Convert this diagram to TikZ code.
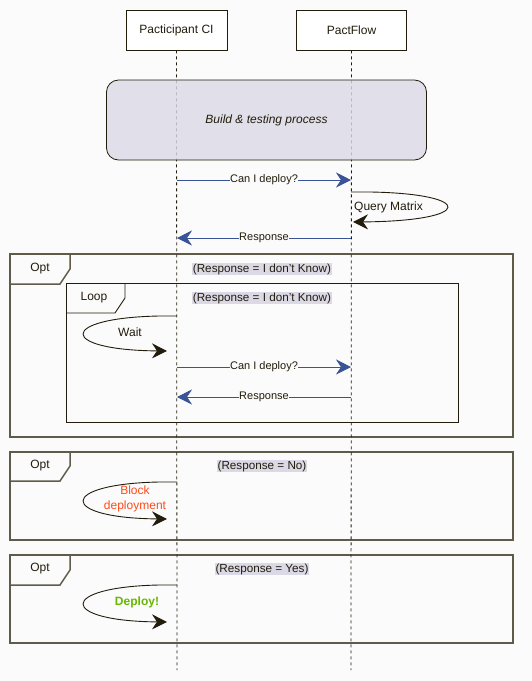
\documentclass[tikz,border=0pt]{standalone}
\usepackage{fontspec}
\setmainfont{Liberation Sans}
\usetikzlibrary{arrows.meta}
\definecolor{bg}{HTML}{FBFBFB}
\definecolor{ink}{HTML}{221C0C}
\definecolor{framecol}{HTML}{5F5B4B}
\definecolor{lav}{HTML}{DCD9E6}
\definecolor{msgblue}{HTML}{3A5296}
\definecolor{blockred}{HTML}{FF4B1A}
\definecolor{okgreen}{HTML}{66B800}
\begin{document}
\begin{tikzpicture}[x=1pt,y=-1pt,
  font=\fontsize{12}{15}\selectfont, text=ink,
  actor/.style={draw=ink, fill=white, line width=0.8pt, minimum width=101pt, minimum height=40pt, inner sep=0pt},
  lifeline/.style={draw=ink, dash pattern=on 3pt off 3pt, line width=0.8pt},
  msg/.style={draw=msgblue, line width=0.8pt, -{Stealth[length=15pt,width=15pt,inset=5pt,color=msgblue,fill=msgblue]}},
  msglabel/.style={midway, fill=bg, inner sep=0.5pt, font=\fontsize{11}{13}\selectfont},
  selfmsg/.style={draw=ink, line width=0.9pt, -{Stealth[length=15pt,width=15pt,inset=5pt,color=ink,fill=ink]}},
  outerframe/.style={draw=framecol, line width=1.5pt},
  innerframe/.style={draw=ink, line width=0.9pt},
  guard/.style={fill=lav, inner sep=1pt, font=\fontsize{11.7}{14}\selectfont},
]
\useasboundingbox[fill=bg] (0,0) rectangle (532,681);

% frames
\draw[outerframe] (10,254) rectangle (513,437);
\draw[outerframe] (10,284) -- (60,284) -- (70,269) -- (70,254);
\node (opt1) at (40,269) {Opt};
\node[guard] (g1) at (262,269) {(Response = I don't Know)};

\draw[innerframe] (66,283) rectangle (458,422);
\draw[innerframe] (66,313) -- (115,313) -- (125,298) -- (125,283);
\node (loop1) at (94,298) {Loop};
\node[guard] (g2) at (262,298) {(Response = I don't Know)};

\draw[outerframe] (10,452) rectangle (513,540);
\draw[outerframe] (10,481) -- (60,481) -- (70,466) -- (70,452);
\node (opt2) at (40,466) {Opt};
\node[guard] (g3) at (262,466) {(Response = No)};

\draw[outerframe] (10,555) rectangle (513,643);
\draw[outerframe] (10,585) -- (60,585) -- (70,570) -- (70,555);
\node (opt3) at (40,569) {Opt};
\node[guard] (g4) at (262,569) {(Response = Yes)};

% participants and lifelines
\node[actor] (ci) at (176.5,30) {Pacticipant CI};
\node[actor, minimum width=110pt] (pf) at (351.5,30) {PactFlow};
\coordinate (ciend) at (177,670);
\coordinate (pfend) at (351,670);
\draw[lifeline] (ci.south) -- (ciend);
\draw[lifeline] (pf.south) -- (pfend);

% build box
\node[draw=ink, line width=0.8pt, fill=lav, fill opacity=0.82, text opacity=1, rounded corners=12pt,
      minimum width=320pt, minimum height=80pt, font=\fontsize{12}{15}\selectfont\itshape] (build) at (266.5,120) {Build \& testing process};

% messages
\coordinate (m1a) at (177,180); \coordinate (m1b) at (351,180);
\draw[msg] (m1a) -- node[msglabel] {Can I deploy?} (m1b);

\coordinate (qa) at (351,192); \coordinate (qb) at (353,222);
\draw[selfmsg] (qa) -- ++(20,0) .. controls (475,194) and (475,221) .. (qb);
\node[anchor=west, inner sep=0pt] (qlabel) at (354,207) {Query Matrix};

\coordinate (m2a) at (351,238); \coordinate (m2b) at (177,238);
\draw[msg] (m2a) -- node[msglabel] {Response} (m2b);

\coordinate (wa) at (177,316); \coordinate (wb) at (167,351);
\draw[selfmsg] (wa) -- ++(-18,0) .. controls (58,318) and (58,350) .. (wb);
\node (wlabel) at (130,332) {Wait};

\coordinate (m3a) at (177,367); \coordinate (m3b) at (351,367);
\draw[msg] (m3a) -- node[msglabel] {Can I deploy?} (m3b);

\coordinate (m4a) at (351,397); \coordinate (m4b) at (177,397);
\draw[msg] (m4a) -- node[msglabel] {Response} (m4b);

\coordinate (ba) at (177,482); \coordinate (bb) at (167,519);
\draw[selfmsg] (ba) -- ++(-18,0) .. controls (58,484) and (58,518) .. (bb);
\node[align=center, text=blockred, inner sep=0pt] (blabel) at (135,498.5) {Block\\deployment};

\coordinate (da) at (177,585); \coordinate (db) at (167,622);
\draw[selfmsg] (da) -- ++(-18,0) .. controls (58,587) and (58,621) .. (db);
\node[text=okgreen, font=\fontsize{12}{15}\selectfont\bfseries] (dlabel) at (137,602) {Deploy!};
\end{tikzpicture}
\end{document}
